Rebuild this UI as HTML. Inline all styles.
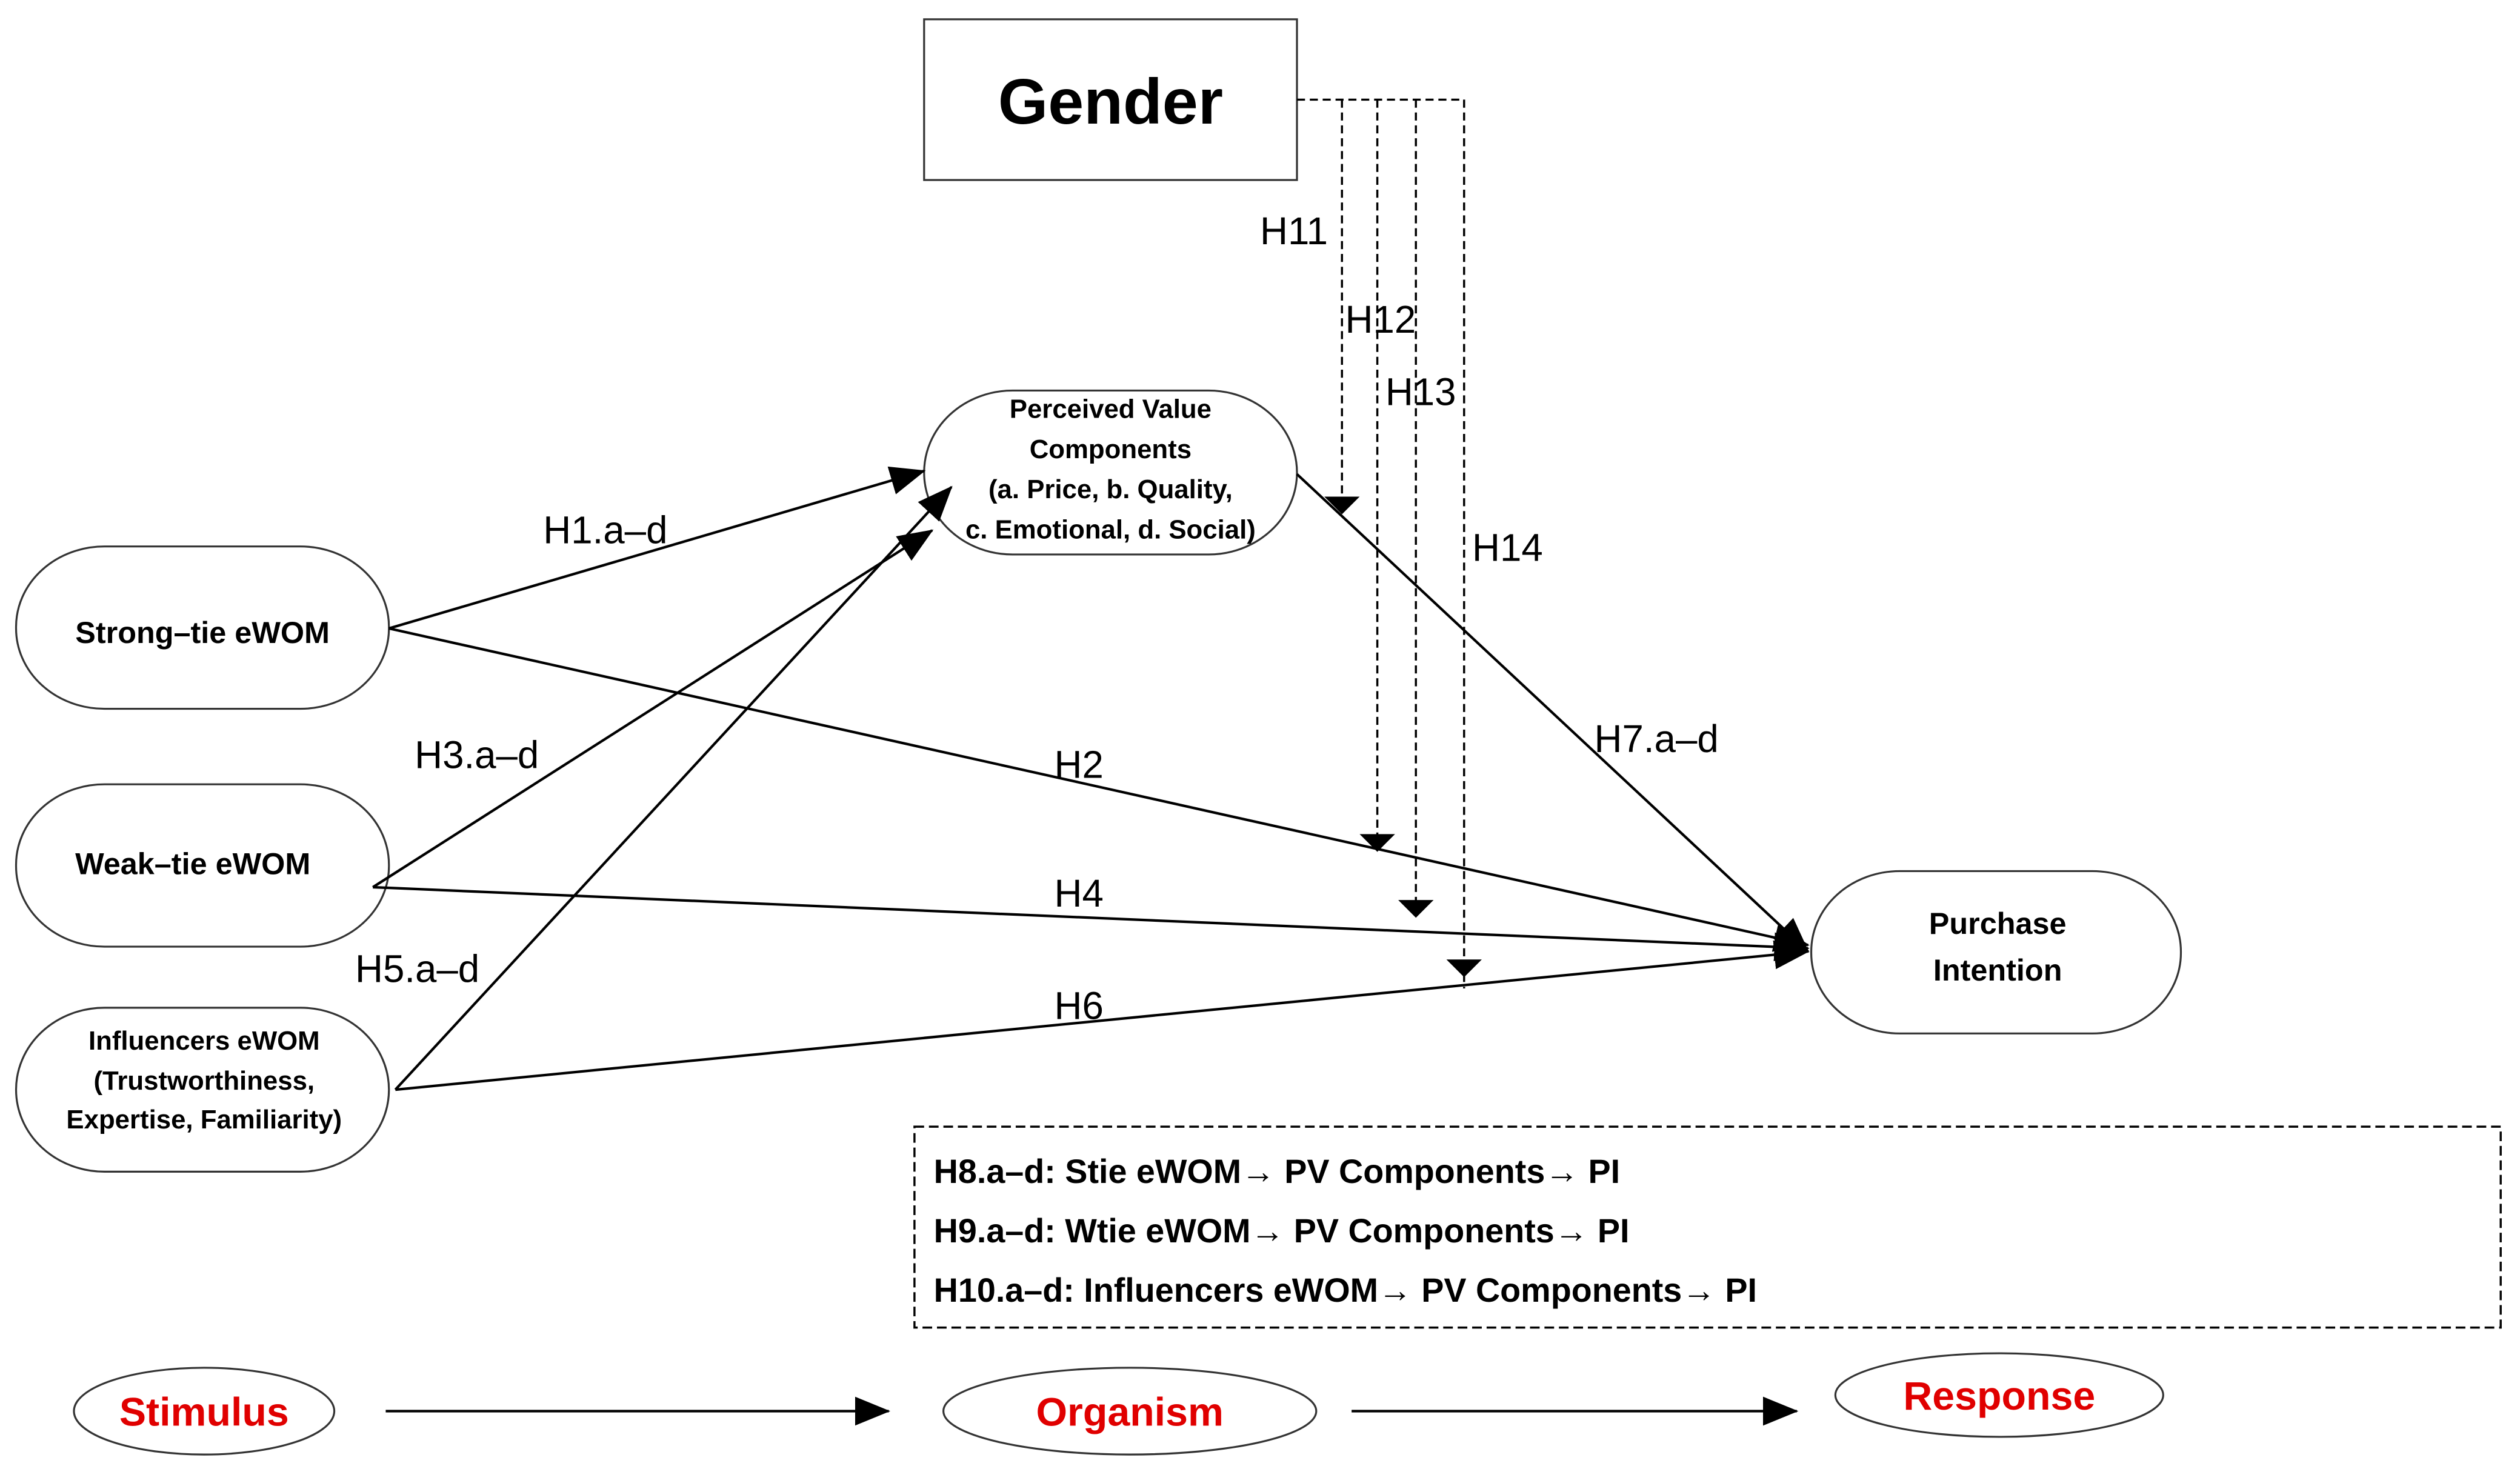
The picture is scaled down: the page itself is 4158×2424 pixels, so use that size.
<!DOCTYPE html>
<html><head><meta charset="utf-8"><style>
html,body{margin:0;padding:0;background:#fff;}
svg{display:block;}
text{font-family:"Liberation Sans",sans-serif;}
.b{font-weight:bold;}
</style></head><body>
<svg width="4158" height="2424" viewBox="0 0 1568 914" preserveAspectRatio="none" xmlns="http://www.w3.org/2000/svg">
<defs>
<marker id="a" markerWidth="10" markerHeight="10" refX="9" refY="5" orient="auto" markerUnits="userSpaceOnUse" viewBox="0 0 10 10"><path d="M0,0 L10,5 L0,10 z" fill="#000"/></marker>
<marker id="big" markerWidth="22" markerHeight="18" refX="21" refY="9" orient="auto" markerUnits="userSpaceOnUse" viewBox="0 0 22 18"><path d="M0,0 L22,9 L0,18 z" fill="#000"/></marker>
</defs>
<rect width="1568" height="914" fill="#fff"/>
<!-- Gender -->
<rect x="575" y="12" width="232" height="100" fill="#fff" stroke="#333" stroke-width="1.2"/>
<text x="691" y="77" font-size="40" class="b" text-anchor="middle">Gender</text>
<g stroke="#000" stroke-width="1.3" stroke-dasharray="5,3" fill="none">
<path d="M807,62 H911"/>
<path d="M835,62 V312"/>
<path d="M857,62 V522"/>
<path d="M881,62 V562"/>
<path d="M911,62 V615"/>
</g>
<g fill="#000">
<path d="M824,309 L846,309 L835,320 z"/>
<path d="M846,519 L868,519 L857,530 z"/>
<path d="M870,560 L892,560 L881,571 z"/>
<path d="M900,597 L922,597 L911,608 z"/>
</g>
<!-- nodes -->
<g fill="#fff" stroke="#333" stroke-width="1.2">
<rect x="575" y="243" width="232" height="102" rx="55" ry="51"/>
<rect x="10" y="340" width="232" height="101" rx="55" ry="50"/>
<rect x="10" y="488" width="232" height="101" rx="55" ry="50"/>
<rect x="10" y="627" width="232" height="102" rx="55" ry="51"/>
<rect x="1127" y="542" width="230" height="101" rx="55" ry="50"/>
</g>
<g class="b" font-size="16.5" text-anchor="middle">
<text x="691" y="260">Perceived Value</text>
<text x="691" y="285">Components</text>
<text x="691" y="310">(a. Price, b. Quality,</text>
<text x="691" y="335">c. Emotional,  d. Social)</text>
<text x="126" y="400" font-size="19">Strong–tie eWOM</text>
<text x="120" y="544" font-size="19">Weak–tie eWOM</text>
<text x="127" y="653">Influencers  eWOM</text>
<text x="127" y="678">(Trustworthiness,</text>
<text x="127" y="702">Expertise, Familiarity)</text>
<text x="1243" y="581" font-size="19">Purchase</text>
<text x="1243" y="610" font-size="19">Intention</text>
</g>
<!-- connectors -->
<g stroke="#000" stroke-width="1.6" fill="none">
<path d="M242,391 L575,293" marker-end="url(#big)"/>
<path d="M232,552 L580,330" marker-end="url(#big)"/>
<path d="M246,678 L592,303" marker-end="url(#big)"/>
<path d="M242,391 L1125,588" marker-end="url(#big)"/>
<path d="M232,552 L1125,590" marker-end="url(#big)"/>
<path d="M246,678 L1125,592" marker-end="url(#big)"/>
<path d="M807,295 L1125,592" marker-end="url(#big)"/>
</g>
<g font-size="24">
<text x="338" y="338">H1.a–d</text>
<text x="656" y="484">H2</text>
<text x="258" y="478">H3.a–d</text>
<text x="656" y="564">H4</text>
<text x="221" y="611">H5.a–d</text>
<text x="656" y="634">H6</text>
<text x="992" y="468">H7.a–d</text>
<text x="784" y="152">H11</text>
<text x="837" y="207">H12</text>
<text x="862" y="252">H13</text>
<text x="916" y="349">H14</text>
</g>
<!-- dashed box -->
<rect x="569" y="701" width="987" height="125" fill="none" stroke="#000" stroke-width="1.3" stroke-dasharray="6,3"/>
<g class="b" font-size="21">
<text x="581" y="736">H8.a–d: Stie eWOM→ PV Components→ PI</text>
<text x="581" y="773">H9.a–d: Wtie eWOM→ PV Components→ PI</text>
<text x="581" y="810">H10.a–d: Influencers eWOM→ PV Components→ PI</text>
</g>
<!-- SOR -->
<g fill="#fff" stroke="#333" stroke-width="1.2">
<ellipse cx="127" cy="878" rx="81" ry="27"/>
<ellipse cx="703" cy="878" rx="116" ry="27"/>
<ellipse cx="1244" cy="868" rx="102" ry="26"/>
</g>
<g class="b" font-size="25" fill="#e00000" text-anchor="middle">
<text x="127" y="887">Stimulus</text>
<text x="703" y="887">Organism</text>
<text x="1244" y="877">Response</text>
</g>
<g stroke="#000" stroke-width="1.6">
<path d="M240,878 H553" marker-end="url(#big)"/>
<path d="M841,878 H1118" marker-end="url(#big)"/>
</g>
</svg>
</body></html>
